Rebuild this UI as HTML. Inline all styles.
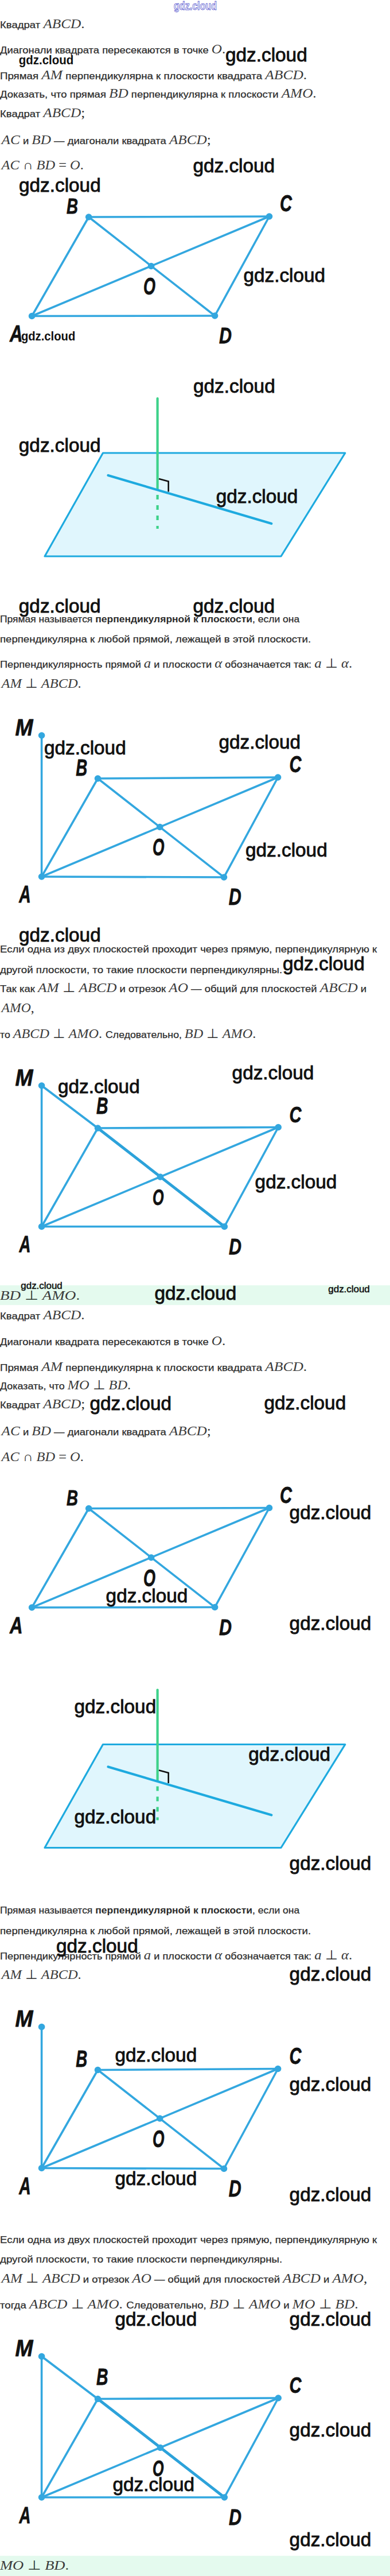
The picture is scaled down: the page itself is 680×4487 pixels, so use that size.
<!DOCTYPE html>
<html><head><meta charset="utf-8"><style>
html,body{margin:0;padding:0;background:#fff;}
body{width:680px;height:4487px;position:relative;overflow:hidden;font-family:"Liberation Sans",sans-serif;}
</style></head><body>
<svg width="680" height="4487" viewBox="0 0 680 4487" style="position:absolute;left:0;top:0">
<rect width="680" height="4487" fill="#fff"/>
<rect x="0" y="2238.7" width="680" height="34.5" fill="#e4faee"/>
<rect x="0" y="4451.8" width="680" height="40" fill="#e4faee"/>
<line x1="55.6" y1="550.5" x2="154.7" y2="378" stroke="#33a7df" stroke-width="3.6" stroke-linecap="round"/>
<line x1="154.7" y1="378" x2="469.5" y2="377" stroke="#33a7df" stroke-width="3.6" stroke-linecap="round"/>
<line x1="469.5" y1="377" x2="374.6" y2="550" stroke="#33a7df" stroke-width="3.6" stroke-linecap="round"/>
<line x1="374.6" y1="550" x2="55.6" y2="550.5" stroke="#33a7df" stroke-width="3.6" stroke-linecap="round"/>
<line x1="55.6" y1="550.5" x2="469.5" y2="377" stroke="#33a7df" stroke-width="3.6" stroke-linecap="round"/>
<line x1="154.7" y1="378" x2="374.6" y2="550" stroke="#33a7df" stroke-width="3.6" stroke-linecap="round"/>
<circle cx="55.6" cy="550.5" r="5.8" fill="#33a7df"/>
<circle cx="154.7" cy="378" r="5.8" fill="#33a7df"/>
<circle cx="469.5" cy="377" r="5.8" fill="#33a7df"/>
<circle cx="374.6" cy="550" r="5.8" fill="#33a7df"/>
<circle cx="263.6" cy="463.5" r="5.8" fill="#33a7df"/>
<text x="116" y="372" font-family="'Liberation Sans', sans-serif" font-weight="bold" font-style="italic" font-size="37.7" fill="#111" stroke="#111" stroke-width="0.8" stroke-linejoin="round" textLength="20" lengthAdjust="spacingAndGlyphs">B</text>
<text x="488" y="368" font-family="'Liberation Sans', sans-serif" font-weight="bold" font-style="italic" font-size="40.5" fill="#111" stroke="#111" stroke-width="0.8" stroke-linejoin="round" textLength="21" lengthAdjust="spacingAndGlyphs">C</text>
<text x="17" y="595" font-family="'Liberation Sans', sans-serif" font-weight="bold" font-style="italic" font-size="40.5" fill="#111" stroke="#111" stroke-width="0.8" stroke-linejoin="round" textLength="22.5" lengthAdjust="spacingAndGlyphs">A</text>
<text x="382" y="598" font-family="'Liberation Sans', sans-serif" font-weight="bold" font-style="italic" font-size="39.1" fill="#111" stroke="#111" stroke-width="0.8" stroke-linejoin="round" textLength="22" lengthAdjust="spacingAndGlyphs">D</text>
<text x="250" y="513" font-family="'Liberation Sans', sans-serif" font-weight="bold" font-style="italic" font-size="41.9" fill="#111" stroke="#111" stroke-width="0.8" stroke-linejoin="round" textLength="21" lengthAdjust="spacingAndGlyphs">O</text>
<polygon points="179.5,789 601.8,789 490,969 78,969" fill="#e0f6fd" stroke="#1eaadf" stroke-width="3.2" stroke-linejoin="round"/>
<line x1="274.6" y1="694" x2="274.6" y2="852" stroke="#3dd28a" stroke-width="4.2" stroke-linecap="round" stroke-linecap="butt"/>
<line x1="274.6" y1="862" x2="274.6" y2="921" stroke="#3dd28a" stroke-width="4.2" stroke-dasharray="8 10"/>
<line x1="188.5" y1="828" x2="473.3" y2="912" stroke="#1eaadf" stroke-width="4.2" stroke-linecap="round"/>
<polyline points="277,834 293.7,838.5 293.7,856.5" fill="none" stroke="#111" stroke-width="2.6"/>
<line x1="72.6" y1="1281" x2="72.6" y2="1527" stroke="#33a7df" stroke-width="3.6" stroke-linecap="round"/>
<line x1="72.6" y1="1527" x2="170.5" y2="1356" stroke="#33a7df" stroke-width="3.6" stroke-linecap="round"/>
<line x1="170.5" y1="1356" x2="484.6" y2="1354" stroke="#33a7df" stroke-width="3.6" stroke-linecap="round"/>
<line x1="484.6" y1="1354" x2="390.5" y2="1528" stroke="#33a7df" stroke-width="3.6" stroke-linecap="round"/>
<line x1="390.5" y1="1528" x2="72.6" y2="1527" stroke="#33a7df" stroke-width="3.6" stroke-linecap="round"/>
<line x1="72.6" y1="1527" x2="484.6" y2="1354" stroke="#33a7df" stroke-width="3.6" stroke-linecap="round"/>
<line x1="170.5" y1="1356" x2="390.5" y2="1528" stroke="#33a7df" stroke-width="3.6" stroke-linecap="round"/>
<circle cx="72.6" cy="1281" r="5.8" fill="#33a7df"/>
<circle cx="72.6" cy="1527" r="5.8" fill="#33a7df"/>
<circle cx="170.5" cy="1356" r="5.8" fill="#33a7df"/>
<circle cx="484.6" cy="1354" r="5.8" fill="#33a7df"/>
<circle cx="390.5" cy="1528" r="5.8" fill="#33a7df"/>
<circle cx="278.7" cy="1440.5" r="5.8" fill="#33a7df"/>
<text x="26.4" y="1280.5" font-family="'Liberation Sans', sans-serif" font-weight="bold" font-style="italic" font-size="40.5" fill="#111" stroke="#111" stroke-width="0.8" stroke-linejoin="round" textLength="31" lengthAdjust="spacingAndGlyphs">M</text>
<text x="132.3" y="1350.5" font-family="'Liberation Sans', sans-serif" font-weight="bold" font-style="italic" font-size="40.5" fill="#111" stroke="#111" stroke-width="0.8" stroke-linejoin="round" textLength="20" lengthAdjust="spacingAndGlyphs">B</text>
<text x="504.4" y="1345.4" font-family="'Liberation Sans', sans-serif" font-weight="bold" font-style="italic" font-size="40.5" fill="#111" stroke="#111" stroke-width="0.8" stroke-linejoin="round" textLength="21" lengthAdjust="spacingAndGlyphs">C</text>
<text x="33.3" y="1572" font-family="'Liberation Sans', sans-serif" font-weight="bold" font-style="italic" font-size="41.9" fill="#111" stroke="#111" stroke-width="0.8" stroke-linejoin="round" textLength="20.5" lengthAdjust="spacingAndGlyphs">A</text>
<text x="398.7" y="1576" font-family="'Liberation Sans', sans-serif" font-weight="bold" font-style="italic" font-size="40.5" fill="#111" stroke="#111" stroke-width="0.8" stroke-linejoin="round" textLength="22" lengthAdjust="spacingAndGlyphs">D</text>
<text x="265.9" y="1490" font-family="'Liberation Sans', sans-serif" font-weight="bold" font-style="italic" font-size="41.9" fill="#111" stroke="#111" stroke-width="0.8" stroke-linejoin="round" textLength="20.5" lengthAdjust="spacingAndGlyphs">O</text>
<line x1="72.6" y1="1891" x2="72.6" y2="2136.5" stroke="#33a7df" stroke-width="3.6" stroke-linecap="round"/>
<line x1="72.6" y1="2136.5" x2="170.5" y2="1965" stroke="#33a7df" stroke-width="3.6" stroke-linecap="round"/>
<line x1="170.5" y1="1965" x2="485.2" y2="1963.5" stroke="#33a7df" stroke-width="3.6" stroke-linecap="round"/>
<line x1="485.2" y1="1963.5" x2="391.3" y2="2136.5" stroke="#33a7df" stroke-width="3.6" stroke-linecap="round"/>
<line x1="391.3" y1="2136.5" x2="72.6" y2="2136.5" stroke="#33a7df" stroke-width="3.6" stroke-linecap="round"/>
<line x1="72.6" y1="2136.5" x2="485.2" y2="1963.5" stroke="#33a7df" stroke-width="3.6" stroke-linecap="round"/>
<line x1="72.6" y1="1891" x2="170.5" y2="1965" stroke="#33a7df" stroke-width="4.0" stroke-linecap="round"/>
<line x1="170.5" y1="1965" x2="391.3" y2="2136.5" stroke="#2ca2da" stroke-width="4.8" stroke-linecap="round"/>
<circle cx="72.6" cy="1891" r="5.8" fill="#33a7df"/>
<circle cx="72.6" cy="2136.5" r="5.8" fill="#33a7df"/>
<circle cx="170.5" cy="1965" r="5.8" fill="#33a7df"/>
<circle cx="485.2" cy="1963.5" r="5.8" fill="#33a7df"/>
<circle cx="391.3" cy="2136.5" r="5.8" fill="#33a7df"/>
<circle cx="279.5" cy="2050" r="5.8" fill="#33a7df"/>
<text x="26.4" y="1890.5" font-family="'Liberation Sans', sans-serif" font-weight="bold" font-style="italic" font-size="40.5" fill="#111" stroke="#111" stroke-width="0.8" stroke-linejoin="round" textLength="31" lengthAdjust="spacingAndGlyphs">M</text>
<text x="168" y="1940" font-family="'Liberation Sans', sans-serif" font-weight="bold" font-style="italic" font-size="40.5" fill="#111" stroke="#111" stroke-width="0.8" stroke-linejoin="round" textLength="20.5" lengthAdjust="spacingAndGlyphs">B</text>
<text x="504.4" y="1954.6" font-family="'Liberation Sans', sans-serif" font-weight="bold" font-style="italic" font-size="39.4" fill="#111" stroke="#111" stroke-width="0.8" stroke-linejoin="round" textLength="21" lengthAdjust="spacingAndGlyphs">C</text>
<text x="33.6" y="2181" font-family="'Liberation Sans', sans-serif" font-weight="bold" font-style="italic" font-size="39.8" fill="#111" stroke="#111" stroke-width="0.8" stroke-linejoin="round" textLength="20" lengthAdjust="spacingAndGlyphs">A</text>
<text x="399" y="2184.6" font-family="'Liberation Sans', sans-serif" font-weight="bold" font-style="italic" font-size="39.4" fill="#111" stroke="#111" stroke-width="0.8" stroke-linejoin="round" textLength="22" lengthAdjust="spacingAndGlyphs">D</text>
<text x="266" y="2099" font-family="'Liberation Sans', sans-serif" font-weight="bold" font-style="italic" font-size="39.1" fill="#111" stroke="#111" stroke-width="0.8" stroke-linejoin="round" textLength="19.5" lengthAdjust="spacingAndGlyphs">O</text>
<line x1="55.6" y1="2800.0" x2="154.7" y2="2627.5" stroke="#33a7df" stroke-width="3.6" stroke-linecap="round"/>
<line x1="154.7" y1="2627.5" x2="469.5" y2="2626.5" stroke="#33a7df" stroke-width="3.6" stroke-linecap="round"/>
<line x1="469.5" y1="2626.5" x2="374.6" y2="2799.5" stroke="#33a7df" stroke-width="3.6" stroke-linecap="round"/>
<line x1="374.6" y1="2799.5" x2="55.6" y2="2800.0" stroke="#33a7df" stroke-width="3.6" stroke-linecap="round"/>
<line x1="55.6" y1="2800.0" x2="469.5" y2="2626.5" stroke="#33a7df" stroke-width="3.6" stroke-linecap="round"/>
<line x1="154.7" y1="2627.5" x2="374.6" y2="2799.5" stroke="#33a7df" stroke-width="3.6" stroke-linecap="round"/>
<circle cx="55.6" cy="2800.0" r="5.8" fill="#33a7df"/>
<circle cx="154.7" cy="2627.5" r="5.8" fill="#33a7df"/>
<circle cx="469.5" cy="2626.5" r="5.8" fill="#33a7df"/>
<circle cx="374.6" cy="2799.5" r="5.8" fill="#33a7df"/>
<circle cx="263.6" cy="2713.0" r="5.8" fill="#33a7df"/>
<text x="116" y="2621.5" font-family="'Liberation Sans', sans-serif" font-weight="bold" font-style="italic" font-size="37.7" fill="#111" stroke="#111" stroke-width="0.8" stroke-linejoin="round" textLength="20" lengthAdjust="spacingAndGlyphs">B</text>
<text x="488" y="2617.5" font-family="'Liberation Sans', sans-serif" font-weight="bold" font-style="italic" font-size="40.5" fill="#111" stroke="#111" stroke-width="0.8" stroke-linejoin="round" textLength="21" lengthAdjust="spacingAndGlyphs">C</text>
<text x="17" y="2844.5" font-family="'Liberation Sans', sans-serif" font-weight="bold" font-style="italic" font-size="40.5" fill="#111" stroke="#111" stroke-width="0.8" stroke-linejoin="round" textLength="22.5" lengthAdjust="spacingAndGlyphs">A</text>
<text x="382" y="2847.5" font-family="'Liberation Sans', sans-serif" font-weight="bold" font-style="italic" font-size="39.1" fill="#111" stroke="#111" stroke-width="0.8" stroke-linejoin="round" textLength="22" lengthAdjust="spacingAndGlyphs">D</text>
<text x="250" y="2762.5" font-family="'Liberation Sans', sans-serif" font-weight="bold" font-style="italic" font-size="41.9" fill="#111" stroke="#111" stroke-width="0.8" stroke-linejoin="round" textLength="21" lengthAdjust="spacingAndGlyphs">O</text>
<polygon points="179.5,3038.5 601.8,3038.5 490,3218.5 78,3218.5" fill="#e0f6fd" stroke="#1eaadf" stroke-width="3.2" stroke-linejoin="round"/>
<line x1="274.6" y1="2943.5" x2="274.6" y2="3101.5" stroke="#3dd28a" stroke-width="4.2" stroke-linecap="round" stroke-linecap="butt"/>
<line x1="274.6" y1="3111.5" x2="274.6" y2="3170.5" stroke="#3dd28a" stroke-width="4.2" stroke-dasharray="8 10"/>
<line x1="188.5" y1="3077.5" x2="473.3" y2="3161.5" stroke="#1eaadf" stroke-width="4.2" stroke-linecap="round"/>
<polyline points="277,3083.5 293.7,3088.0 293.7,3106.0" fill="none" stroke="#111" stroke-width="2.6"/>
<line x1="72.6" y1="3530.5" x2="72.6" y2="3776.5" stroke="#33a7df" stroke-width="3.6" stroke-linecap="round"/>
<line x1="72.6" y1="3776.5" x2="170.5" y2="3605.5" stroke="#33a7df" stroke-width="3.6" stroke-linecap="round"/>
<line x1="170.5" y1="3605.5" x2="484.6" y2="3603.5" stroke="#33a7df" stroke-width="3.6" stroke-linecap="round"/>
<line x1="484.6" y1="3603.5" x2="390.5" y2="3777.5" stroke="#33a7df" stroke-width="3.6" stroke-linecap="round"/>
<line x1="390.5" y1="3777.5" x2="72.6" y2="3776.5" stroke="#33a7df" stroke-width="3.6" stroke-linecap="round"/>
<line x1="72.6" y1="3776.5" x2="484.6" y2="3603.5" stroke="#33a7df" stroke-width="3.6" stroke-linecap="round"/>
<line x1="170.5" y1="3605.5" x2="390.5" y2="3777.5" stroke="#33a7df" stroke-width="3.6" stroke-linecap="round"/>
<circle cx="72.6" cy="3530.5" r="5.8" fill="#33a7df"/>
<circle cx="72.6" cy="3776.5" r="5.8" fill="#33a7df"/>
<circle cx="170.5" cy="3605.5" r="5.8" fill="#33a7df"/>
<circle cx="484.6" cy="3603.5" r="5.8" fill="#33a7df"/>
<circle cx="390.5" cy="3777.5" r="5.8" fill="#33a7df"/>
<circle cx="278.7" cy="3690.0" r="5.8" fill="#33a7df"/>
<text x="26.4" y="3530.0" font-family="'Liberation Sans', sans-serif" font-weight="bold" font-style="italic" font-size="40.5" fill="#111" stroke="#111" stroke-width="0.8" stroke-linejoin="round" textLength="31" lengthAdjust="spacingAndGlyphs">M</text>
<text x="132.3" y="3600.0" font-family="'Liberation Sans', sans-serif" font-weight="bold" font-style="italic" font-size="40.5" fill="#111" stroke="#111" stroke-width="0.8" stroke-linejoin="round" textLength="20" lengthAdjust="spacingAndGlyphs">B</text>
<text x="504.4" y="3594.9" font-family="'Liberation Sans', sans-serif" font-weight="bold" font-style="italic" font-size="40.5" fill="#111" stroke="#111" stroke-width="0.8" stroke-linejoin="round" textLength="21" lengthAdjust="spacingAndGlyphs">C</text>
<text x="33.3" y="3821.5" font-family="'Liberation Sans', sans-serif" font-weight="bold" font-style="italic" font-size="41.9" fill="#111" stroke="#111" stroke-width="0.8" stroke-linejoin="round" textLength="20.5" lengthAdjust="spacingAndGlyphs">A</text>
<text x="398.7" y="3825.5" font-family="'Liberation Sans', sans-serif" font-weight="bold" font-style="italic" font-size="40.5" fill="#111" stroke="#111" stroke-width="0.8" stroke-linejoin="round" textLength="22" lengthAdjust="spacingAndGlyphs">D</text>
<text x="265.9" y="3739.5" font-family="'Liberation Sans', sans-serif" font-weight="bold" font-style="italic" font-size="41.9" fill="#111" stroke="#111" stroke-width="0.8" stroke-linejoin="round" textLength="20.5" lengthAdjust="spacingAndGlyphs">O</text>
<line x1="72.6" y1="4104.5" x2="72.6" y2="4350.0" stroke="#33a7df" stroke-width="3.6" stroke-linecap="round"/>
<line x1="72.6" y1="4350.0" x2="170.5" y2="4178.5" stroke="#33a7df" stroke-width="3.6" stroke-linecap="round"/>
<line x1="170.5" y1="4178.5" x2="485.2" y2="4177.0" stroke="#33a7df" stroke-width="3.6" stroke-linecap="round"/>
<line x1="485.2" y1="4177.0" x2="391.3" y2="4350.0" stroke="#33a7df" stroke-width="3.6" stroke-linecap="round"/>
<line x1="391.3" y1="4350.0" x2="72.6" y2="4350.0" stroke="#33a7df" stroke-width="3.6" stroke-linecap="round"/>
<line x1="72.6" y1="4350.0" x2="485.2" y2="4177.0" stroke="#33a7df" stroke-width="3.6" stroke-linecap="round"/>
<line x1="72.6" y1="4104.5" x2="170.5" y2="4178.5" stroke="#33a7df" stroke-width="4.0" stroke-linecap="round"/>
<line x1="170.5" y1="4178.5" x2="391.3" y2="4350.0" stroke="#2ca2da" stroke-width="4.8" stroke-linecap="round"/>
<circle cx="72.6" cy="4104.5" r="5.8" fill="#33a7df"/>
<circle cx="72.6" cy="4350.0" r="5.8" fill="#33a7df"/>
<circle cx="170.5" cy="4178.5" r="5.8" fill="#33a7df"/>
<circle cx="485.2" cy="4177.0" r="5.8" fill="#33a7df"/>
<circle cx="391.3" cy="4350.0" r="5.8" fill="#33a7df"/>
<circle cx="279.5" cy="4263.5" r="5.8" fill="#33a7df"/>
<text x="26.4" y="4104.0" font-family="'Liberation Sans', sans-serif" font-weight="bold" font-style="italic" font-size="40.5" fill="#111" stroke="#111" stroke-width="0.8" stroke-linejoin="round" textLength="31" lengthAdjust="spacingAndGlyphs">M</text>
<text x="168" y="4153.5" font-family="'Liberation Sans', sans-serif" font-weight="bold" font-style="italic" font-size="40.5" fill="#111" stroke="#111" stroke-width="0.8" stroke-linejoin="round" textLength="20.5" lengthAdjust="spacingAndGlyphs">B</text>
<text x="504.4" y="4168.1" font-family="'Liberation Sans', sans-serif" font-weight="bold" font-style="italic" font-size="39.4" fill="#111" stroke="#111" stroke-width="0.8" stroke-linejoin="round" textLength="21" lengthAdjust="spacingAndGlyphs">C</text>
<text x="33.6" y="4394.5" font-family="'Liberation Sans', sans-serif" font-weight="bold" font-style="italic" font-size="39.8" fill="#111" stroke="#111" stroke-width="0.8" stroke-linejoin="round" textLength="20" lengthAdjust="spacingAndGlyphs">A</text>
<text x="399" y="4398.1" font-family="'Liberation Sans', sans-serif" font-weight="bold" font-style="italic" font-size="39.4" fill="#111" stroke="#111" stroke-width="0.8" stroke-linejoin="round" textLength="22" lengthAdjust="spacingAndGlyphs">D</text>
<text x="266" y="4312.5" font-family="'Liberation Sans', sans-serif" font-weight="bold" font-style="italic" font-size="39.1" fill="#111" stroke="#111" stroke-width="0.8" stroke-linejoin="round" textLength="19.5" lengthAdjust="spacingAndGlyphs">O</text>
<text x="0" y="48.7" fill="#2b2b2b" xml:space="preserve" textLength="147.7" lengthAdjust="spacingAndGlyphs"><tspan font-family="'Liberation Sans', sans-serif" font-size="16.5" stroke="#2b2b2b" stroke-width="0.25">Квадрат </tspan><tspan font-family="'Liberation Serif', serif" font-size="22.5" font-style="italic" fill="#3a3a3a">ABCD</tspan><tspan font-family="'Liberation Serif', serif" font-size="22.5">.</tspan></text>
<text x="0" y="93.1" fill="#2b2b2b" xml:space="preserve" textLength="393.2" lengthAdjust="spacingAndGlyphs"><tspan font-family="'Liberation Sans', sans-serif" font-size="16.5" stroke="#2b2b2b" stroke-width="0.25">Диагонали квадрата пересекаются в точке </tspan><tspan font-family="'Liberation Serif', serif" font-size="22.5" font-style="italic" fill="#3a3a3a">O</tspan><tspan font-family="'Liberation Serif', serif" font-size="22.5">.</tspan></text>
<text x="0" y="138.2" fill="#2b2b2b" xml:space="preserve" textLength="535.2" lengthAdjust="spacingAndGlyphs"><tspan font-family="'Liberation Sans', sans-serif" font-size="16.5" stroke="#2b2b2b" stroke-width="0.25">Прямая </tspan><tspan font-family="'Liberation Serif', serif" font-size="22.5" font-style="italic" fill="#3a3a3a">AM</tspan><tspan font-family="'Liberation Sans', sans-serif" font-size="16.5" stroke="#2b2b2b" stroke-width="0.25"> перпендикулярна к плоскости квадрата </tspan><tspan font-family="'Liberation Serif', serif" font-size="22.5" font-style="italic" fill="#3a3a3a">ABCD</tspan><tspan font-family="'Liberation Serif', serif" font-size="22.5">.</tspan></text>
<text x="0" y="170.3" fill="#2b2b2b" xml:space="preserve" textLength="551.7" lengthAdjust="spacingAndGlyphs"><tspan font-family="'Liberation Sans', sans-serif" font-size="16.5" stroke="#2b2b2b" stroke-width="0.25">Доказать, что прямая </tspan><tspan font-family="'Liberation Serif', serif" font-size="22.5" font-style="italic" fill="#3a3a3a">BD</tspan><tspan font-family="'Liberation Sans', sans-serif" font-size="16.5" stroke="#2b2b2b" stroke-width="0.25"> перпендикулярна к плоскости </tspan><tspan font-family="'Liberation Serif', serif" font-size="22.5" font-style="italic" fill="#3a3a3a">AMO</tspan><tspan font-family="'Liberation Serif', serif" font-size="22.5">.</tspan></text>
<text x="0" y="203.6" fill="#2b2b2b" xml:space="preserve" textLength="148.2" lengthAdjust="spacingAndGlyphs"><tspan font-family="'Liberation Sans', sans-serif" font-size="16.5" stroke="#2b2b2b" stroke-width="0.25">Квадрат </tspan><tspan font-family="'Liberation Serif', serif" font-size="22.5" font-style="italic" fill="#3a3a3a">ABCD</tspan><tspan font-family="'Liberation Serif', serif" font-size="22.5">;</tspan></text>
<text x="2.6" y="250.5" fill="#2b2b2b" xml:space="preserve" textLength="365.1" lengthAdjust="spacingAndGlyphs"><tspan font-family="'Liberation Serif', serif" font-size="22.5" font-style="italic" fill="#3a3a3a">AC</tspan><tspan font-family="'Liberation Sans', sans-serif" font-size="16.5" stroke="#2b2b2b" stroke-width="0.25"> и </tspan><tspan font-family="'Liberation Serif', serif" font-size="22.5" font-style="italic" fill="#3a3a3a">BD</tspan><tspan font-family="'Liberation Sans', sans-serif" font-size="16.5" stroke="#2b2b2b" stroke-width="0.25"> — диагонали квадрата </tspan><tspan font-family="'Liberation Serif', serif" font-size="22.5" font-style="italic" fill="#3a3a3a">ABCD</tspan><tspan font-family="'Liberation Serif', serif" font-size="22.5">;</tspan></text>
<text x="2.6" y="295.4" fill="#2b2b2b" xml:space="preserve" textLength="143.2" lengthAdjust="spacingAndGlyphs"><tspan font-family="'Liberation Serif', serif" font-size="22.5" font-style="italic" fill="#3a3a3a">AC</tspan><tspan font-family="'Liberation Serif', serif" font-size="22.5"> ∩ </tspan><tspan font-family="'Liberation Serif', serif" font-size="22.5" font-style="italic" fill="#3a3a3a">BD</tspan><tspan font-family="'Liberation Serif', serif" font-size="22.5"> = </tspan><tspan font-family="'Liberation Serif', serif" font-size="22.5" font-style="italic" fill="#3a3a3a">O</tspan><tspan font-family="'Liberation Serif', serif" font-size="22.5">.</tspan></text>
<text x="0" y="1083.8" fill="#2b2b2b" xml:space="preserve" textLength="522.2" lengthAdjust="spacingAndGlyphs"><tspan font-family="'Liberation Sans', sans-serif" font-size="16.5" stroke="#2b2b2b" stroke-width="0.25">Прямая называется </tspan><tspan font-family="'Liberation Sans', sans-serif" font-size="16.5" font-weight="bold">перпендикулярной к плоскости</tspan><tspan font-family="'Liberation Sans', sans-serif" font-size="16.5" stroke="#2b2b2b" stroke-width="0.25">, если она</tspan></text>
<text x="0" y="1119" fill="#2b2b2b" xml:space="preserve" textLength="542.2" lengthAdjust="spacingAndGlyphs"><tspan font-family="'Liberation Sans', sans-serif" font-size="16.5" stroke="#2b2b2b" stroke-width="0.25">перпендикулярна к любой прямой, лежащей в этой плоскости.</tspan></text>
<text x="0" y="1163" fill="#2b2b2b" xml:space="preserve" textLength="614.2" lengthAdjust="spacingAndGlyphs"><tspan font-family="'Liberation Sans', sans-serif" font-size="16.5" stroke="#2b2b2b" stroke-width="0.25">Перпендикулярность прямой </tspan><tspan font-family="'Liberation Serif', serif" font-size="22.5" font-style="italic" fill="#3a3a3a">a</tspan><tspan font-family="'Liberation Sans', sans-serif" font-size="16.5" stroke="#2b2b2b" stroke-width="0.25"> и плоскости </tspan><tspan font-family="'Liberation Serif', serif" font-size="22.5" font-style="italic" fill="#3a3a3a">α</tspan><tspan font-family="'Liberation Sans', sans-serif" font-size="16.5" stroke="#2b2b2b" stroke-width="0.25"> обозначается так: </tspan><tspan font-family="'Liberation Serif', serif" font-size="22.5" font-style="italic" fill="#3a3a3a">a</tspan><tspan font-family="'Liberation Serif', serif" font-size="22.5"> ⊥ </tspan><tspan font-family="'Liberation Serif', serif" font-size="22.5" font-style="italic" fill="#3a3a3a">α</tspan><tspan font-family="'Liberation Serif', serif" font-size="22.5">.</tspan></text>
<text x="2.6" y="1197.8" fill="#2b2b2b" xml:space="preserve" textLength="139.1" lengthAdjust="spacingAndGlyphs"><tspan font-family="'Liberation Serif', serif" font-size="22.5" font-style="italic" fill="#3a3a3a">AM</tspan><tspan font-family="'Liberation Serif', serif" font-size="22.5"> ⊥ </tspan><tspan font-family="'Liberation Serif', serif" font-size="22.5" font-style="italic" fill="#3a3a3a">ABCD</tspan><tspan font-family="'Liberation Serif', serif" font-size="22.5">.</tspan></text>
<text x="0" y="1658.5" fill="#2b2b2b" xml:space="preserve" textLength="657.2" lengthAdjust="spacingAndGlyphs"><tspan font-family="'Liberation Sans', sans-serif" font-size="16.5" stroke="#2b2b2b" stroke-width="0.25">Если одна из двух плоскостей проходит через прямую, перпендикулярную к</tspan></text>
<text x="0" y="1695.4" fill="#2b2b2b" xml:space="preserve" textLength="492.2" lengthAdjust="spacingAndGlyphs"><tspan font-family="'Liberation Sans', sans-serif" font-size="16.5" stroke="#2b2b2b" stroke-width="0.25">другой плоскости, то такие плоскости перпендикулярны.</tspan></text>
<text x="0" y="1727.7" fill="#2b2b2b" xml:space="preserve" textLength="639.2" lengthAdjust="spacingAndGlyphs"><tspan font-family="'Liberation Sans', sans-serif" font-size="16.5" stroke="#2b2b2b" stroke-width="0.25">Так как </tspan><tspan font-family="'Liberation Serif', serif" font-size="22.5" font-style="italic" fill="#3a3a3a">AM</tspan><tspan font-family="'Liberation Serif', serif" font-size="22.5"> ⊥ </tspan><tspan font-family="'Liberation Serif', serif" font-size="22.5" font-style="italic" fill="#3a3a3a">ABCD</tspan><tspan font-family="'Liberation Sans', sans-serif" font-size="16.5" stroke="#2b2b2b" stroke-width="0.25"> и отрезок </tspan><tspan font-family="'Liberation Serif', serif" font-size="22.5" font-style="italic" fill="#3a3a3a">AO</tspan><tspan font-family="'Liberation Sans', sans-serif" font-size="16.5" stroke="#2b2b2b" stroke-width="0.25"> — общий для плоскостей </tspan><tspan font-family="'Liberation Serif', serif" font-size="22.5" font-style="italic" fill="#3a3a3a">ABCD</tspan><tspan font-family="'Liberation Sans', sans-serif" font-size="16.5" stroke="#2b2b2b" stroke-width="0.25"> и</tspan></text>
<text x="2.6" y="1763.2" fill="#2b2b2b" xml:space="preserve" textLength="57.0" lengthAdjust="spacingAndGlyphs"><tspan font-family="'Liberation Serif', serif" font-size="22.5" font-style="italic" fill="#3a3a3a">AMO</tspan><tspan font-family="'Liberation Serif', serif" font-size="22.5">,</tspan></text>
<text x="0" y="1807.5" fill="#2b2b2b" xml:space="preserve" textLength="446.2" lengthAdjust="spacingAndGlyphs"><tspan font-family="'Liberation Sans', sans-serif" font-size="16.5" stroke="#2b2b2b" stroke-width="0.25">то </tspan><tspan font-family="'Liberation Serif', serif" font-size="22.5" font-style="italic" fill="#3a3a3a">ABCD</tspan><tspan font-family="'Liberation Serif', serif" font-size="22.5"> ⊥ </tspan><tspan font-family="'Liberation Serif', serif" font-size="22.5" font-style="italic" fill="#3a3a3a">AMO</tspan><tspan font-family="'Liberation Serif', serif" font-size="22.5">. </tspan><tspan font-family="'Liberation Sans', sans-serif" font-size="16.5" stroke="#2b2b2b" stroke-width="0.25">Следовательно, </tspan><tspan font-family="'Liberation Serif', serif" font-size="22.5" font-style="italic" fill="#3a3a3a">BD</tspan><tspan font-family="'Liberation Serif', serif" font-size="22.5"> ⊥ </tspan><tspan font-family="'Liberation Serif', serif" font-size="22.5" font-style="italic" fill="#3a3a3a">AMO</tspan><tspan font-family="'Liberation Serif', serif" font-size="22.5">.</tspan></text>
<text x="0" y="2264" fill="#2e3a33" xml:space="preserve" textLength="139.2" lengthAdjust="spacingAndGlyphs"><tspan font-family="'Liberation Serif', serif" font-size="22.5" font-style="italic" fill="#3a3a3a">BD</tspan><tspan font-family="'Liberation Serif', serif" font-size="22.5"> ⊥ </tspan><tspan font-family="'Liberation Serif', serif" font-size="22.5" font-style="italic" fill="#3a3a3a">AMO</tspan><tspan font-family="'Liberation Serif', serif" font-size="22.5">.</tspan></text>
<text x="0" y="2298.2" fill="#2b2b2b" xml:space="preserve" textLength="147.7" lengthAdjust="spacingAndGlyphs"><tspan font-family="'Liberation Sans', sans-serif" font-size="16.5" stroke="#2b2b2b" stroke-width="0.25">Квадрат </tspan><tspan font-family="'Liberation Serif', serif" font-size="22.5" font-style="italic" fill="#3a3a3a">ABCD</tspan><tspan font-family="'Liberation Serif', serif" font-size="22.5">.</tspan></text>
<text x="0" y="2342.6" fill="#2b2b2b" xml:space="preserve" textLength="393.2" lengthAdjust="spacingAndGlyphs"><tspan font-family="'Liberation Sans', sans-serif" font-size="16.5" stroke="#2b2b2b" stroke-width="0.25">Диагонали квадрата пересекаются в точке </tspan><tspan font-family="'Liberation Serif', serif" font-size="22.5" font-style="italic" fill="#3a3a3a">O</tspan><tspan font-family="'Liberation Serif', serif" font-size="22.5">.</tspan></text>
<text x="0" y="2387.7" fill="#2b2b2b" xml:space="preserve" textLength="535.2" lengthAdjust="spacingAndGlyphs"><tspan font-family="'Liberation Sans', sans-serif" font-size="16.5" stroke="#2b2b2b" stroke-width="0.25">Прямая </tspan><tspan font-family="'Liberation Serif', serif" font-size="22.5" font-style="italic" fill="#3a3a3a">AM</tspan><tspan font-family="'Liberation Sans', sans-serif" font-size="16.5" stroke="#2b2b2b" stroke-width="0.25"> перпендикулярна к плоскости квадрата </tspan><tspan font-family="'Liberation Serif', serif" font-size="22.5" font-style="italic" fill="#3a3a3a">ABCD</tspan><tspan font-family="'Liberation Serif', serif" font-size="22.5">.</tspan></text>
<text x="0" y="2419.8" fill="#2b2b2b" xml:space="preserve" textLength="228.2" lengthAdjust="spacingAndGlyphs"><tspan font-family="'Liberation Sans', sans-serif" font-size="16.5" stroke="#2b2b2b" stroke-width="0.25">Доказать, что </tspan><tspan font-family="'Liberation Serif', serif" font-size="22.5" font-style="italic" fill="#3a3a3a">MO</tspan><tspan font-family="'Liberation Serif', serif" font-size="22.5"> ⊥ </tspan><tspan font-family="'Liberation Serif', serif" font-size="22.5" font-style="italic" fill="#3a3a3a">BD</tspan><tspan font-family="'Liberation Serif', serif" font-size="22.5">.</tspan></text>
<text x="0" y="2453.1" fill="#2b2b2b" xml:space="preserve" textLength="148.2" lengthAdjust="spacingAndGlyphs"><tspan font-family="'Liberation Sans', sans-serif" font-size="16.5" stroke="#2b2b2b" stroke-width="0.25">Квадрат </tspan><tspan font-family="'Liberation Serif', serif" font-size="22.5" font-style="italic" fill="#3a3a3a">ABCD</tspan><tspan font-family="'Liberation Serif', serif" font-size="22.5">;</tspan></text>
<text x="2.6" y="2500.0" fill="#2b2b2b" xml:space="preserve" textLength="365.1" lengthAdjust="spacingAndGlyphs"><tspan font-family="'Liberation Serif', serif" font-size="22.5" font-style="italic" fill="#3a3a3a">AC</tspan><tspan font-family="'Liberation Sans', sans-serif" font-size="16.5" stroke="#2b2b2b" stroke-width="0.25"> и </tspan><tspan font-family="'Liberation Serif', serif" font-size="22.5" font-style="italic" fill="#3a3a3a">BD</tspan><tspan font-family="'Liberation Sans', sans-serif" font-size="16.5" stroke="#2b2b2b" stroke-width="0.25"> — диагонали квадрата </tspan><tspan font-family="'Liberation Serif', serif" font-size="22.5" font-style="italic" fill="#3a3a3a">ABCD</tspan><tspan font-family="'Liberation Serif', serif" font-size="22.5">;</tspan></text>
<text x="2.6" y="2544.9" fill="#2b2b2b" xml:space="preserve" textLength="143.2" lengthAdjust="spacingAndGlyphs"><tspan font-family="'Liberation Serif', serif" font-size="22.5" font-style="italic" fill="#3a3a3a">AC</tspan><tspan font-family="'Liberation Serif', serif" font-size="22.5"> ∩ </tspan><tspan font-family="'Liberation Serif', serif" font-size="22.5" font-style="italic" fill="#3a3a3a">BD</tspan><tspan font-family="'Liberation Serif', serif" font-size="22.5"> = </tspan><tspan font-family="'Liberation Serif', serif" font-size="22.5" font-style="italic" fill="#3a3a3a">O</tspan><tspan font-family="'Liberation Serif', serif" font-size="22.5">.</tspan></text>
<text x="0" y="3333.3" fill="#2b2b2b" xml:space="preserve" textLength="522.2" lengthAdjust="spacingAndGlyphs"><tspan font-family="'Liberation Sans', sans-serif" font-size="16.5" stroke="#2b2b2b" stroke-width="0.25">Прямая называется </tspan><tspan font-family="'Liberation Sans', sans-serif" font-size="16.5" font-weight="bold">перпендикулярной к плоскости</tspan><tspan font-family="'Liberation Sans', sans-serif" font-size="16.5" stroke="#2b2b2b" stroke-width="0.25">, если она</tspan></text>
<text x="0" y="3368.5" fill="#2b2b2b" xml:space="preserve" textLength="542.2" lengthAdjust="spacingAndGlyphs"><tspan font-family="'Liberation Sans', sans-serif" font-size="16.5" stroke="#2b2b2b" stroke-width="0.25">перпендикулярна к любой прямой, лежащей в этой плоскости.</tspan></text>
<text x="0" y="3412.5" fill="#2b2b2b" xml:space="preserve" textLength="614.2" lengthAdjust="spacingAndGlyphs"><tspan font-family="'Liberation Sans', sans-serif" font-size="16.5" stroke="#2b2b2b" stroke-width="0.25">Перпендикулярность прямой </tspan><tspan font-family="'Liberation Serif', serif" font-size="22.5" font-style="italic" fill="#3a3a3a">a</tspan><tspan font-family="'Liberation Sans', sans-serif" font-size="16.5" stroke="#2b2b2b" stroke-width="0.25"> и плоскости </tspan><tspan font-family="'Liberation Serif', serif" font-size="22.5" font-style="italic" fill="#3a3a3a">α</tspan><tspan font-family="'Liberation Sans', sans-serif" font-size="16.5" stroke="#2b2b2b" stroke-width="0.25"> обозначается так: </tspan><tspan font-family="'Liberation Serif', serif" font-size="22.5" font-style="italic" fill="#3a3a3a">a</tspan><tspan font-family="'Liberation Serif', serif" font-size="22.5"> ⊥ </tspan><tspan font-family="'Liberation Serif', serif" font-size="22.5" font-style="italic" fill="#3a3a3a">α</tspan><tspan font-family="'Liberation Serif', serif" font-size="22.5">.</tspan></text>
<text x="2.6" y="3447.3" fill="#2b2b2b" xml:space="preserve" textLength="139.1" lengthAdjust="spacingAndGlyphs"><tspan font-family="'Liberation Serif', serif" font-size="22.5" font-style="italic" fill="#3a3a3a">AM</tspan><tspan font-family="'Liberation Serif', serif" font-size="22.5"> ⊥ </tspan><tspan font-family="'Liberation Serif', serif" font-size="22.5" font-style="italic" fill="#3a3a3a">ABCD</tspan><tspan font-family="'Liberation Serif', serif" font-size="22.5">.</tspan></text>
<text x="0" y="3907" fill="#2b2b2b" xml:space="preserve" textLength="657.2" lengthAdjust="spacingAndGlyphs"><tspan font-family="'Liberation Sans', sans-serif" font-size="16.5" stroke="#2b2b2b" stroke-width="0.25">Если одна из двух плоскостей проходит через прямую, перпендикулярную к</tspan></text>
<text x="0" y="3941.4" fill="#2b2b2b" xml:space="preserve" textLength="492.2" lengthAdjust="spacingAndGlyphs"><tspan font-family="'Liberation Sans', sans-serif" font-size="16.5" stroke="#2b2b2b" stroke-width="0.25">другой плоскости, то такие плоскости перпендикулярны.</tspan></text>
<text x="2.6" y="3976.2" fill="#2b2b2b" xml:space="preserve" textLength="637.6" lengthAdjust="spacingAndGlyphs"><tspan font-family="'Liberation Serif', serif" font-size="22.5" font-style="italic" fill="#3a3a3a">AM</tspan><tspan font-family="'Liberation Serif', serif" font-size="22.5"> ⊥ </tspan><tspan font-family="'Liberation Serif', serif" font-size="22.5" font-style="italic" fill="#3a3a3a">ABCD</tspan><tspan font-family="'Liberation Sans', sans-serif" font-size="16.5" stroke="#2b2b2b" stroke-width="0.25"> и отрезок </tspan><tspan font-family="'Liberation Serif', serif" font-size="22.5" font-style="italic" fill="#3a3a3a">AO</tspan><tspan font-family="'Liberation Sans', sans-serif" font-size="16.5" stroke="#2b2b2b" stroke-width="0.25"> — общий для плоскостей </tspan><tspan font-family="'Liberation Serif', serif" font-size="22.5" font-style="italic" fill="#3a3a3a">ABCD</tspan><tspan font-family="'Liberation Sans', sans-serif" font-size="16.5" stroke="#2b2b2b" stroke-width="0.25"> и </tspan><tspan font-family="'Liberation Serif', serif" font-size="22.5" font-style="italic" fill="#3a3a3a">AMO</tspan><tspan font-family="'Liberation Serif', serif" font-size="22.5">,</tspan></text>
<text x="0" y="4021.4" fill="#2b2b2b" xml:space="preserve" textLength="624.7" lengthAdjust="spacingAndGlyphs"><tspan font-family="'Liberation Sans', sans-serif" font-size="16.5" stroke="#2b2b2b" stroke-width="0.25">тогда </tspan><tspan font-family="'Liberation Serif', serif" font-size="22.5" font-style="italic" fill="#3a3a3a">ABCD</tspan><tspan font-family="'Liberation Serif', serif" font-size="22.5"> ⊥ </tspan><tspan font-family="'Liberation Serif', serif" font-size="22.5" font-style="italic" fill="#3a3a3a">AMO</tspan><tspan font-family="'Liberation Serif', serif" font-size="22.5">. </tspan><tspan font-family="'Liberation Sans', sans-serif" font-size="16.5" stroke="#2b2b2b" stroke-width="0.25">Следовательно, </tspan><tspan font-family="'Liberation Serif', serif" font-size="22.5" font-style="italic" fill="#3a3a3a">BD</tspan><tspan font-family="'Liberation Serif', serif" font-size="22.5"> ⊥ </tspan><tspan font-family="'Liberation Serif', serif" font-size="22.5" font-style="italic" fill="#3a3a3a">AMO</tspan><tspan font-family="'Liberation Sans', sans-serif" font-size="16.5" stroke="#2b2b2b" stroke-width="0.25"> и </tspan><tspan font-family="'Liberation Serif', serif" font-size="22.5" font-style="italic" fill="#3a3a3a">MO</tspan><tspan font-family="'Liberation Serif', serif" font-size="22.5"> ⊥ </tspan><tspan font-family="'Liberation Serif', serif" font-size="22.5" font-style="italic" fill="#3a3a3a">BD</tspan><tspan font-family="'Liberation Serif', serif" font-size="22.5">.</tspan></text>
<text x="0" y="4476.4" fill="#2e3a33" xml:space="preserve" textLength="120.2" lengthAdjust="spacingAndGlyphs"><tspan font-family="'Liberation Serif', serif" font-size="22.5" font-style="italic" fill="#3a3a3a">MO</tspan><tspan font-family="'Liberation Serif', serif" font-size="22.5"> ⊥ </tspan><tspan font-family="'Liberation Serif', serif" font-size="22.5" font-style="italic" fill="#3a3a3a">BD</tspan><tspan font-family="'Liberation Serif', serif" font-size="22.5">.</tspan></text>
<text x="33" y="334.2" font-family="'Liberation Sans', sans-serif" font-size="34" fill="#111" stroke="#111" stroke-width="0.9" textLength="142.7" lengthAdjust="spacingAndGlyphs">gdz.cloud</text>
<text x="336.4" y="299.5" font-family="'Liberation Sans', sans-serif" font-size="34" fill="#111" stroke="#111" stroke-width="0.9" textLength="142.7" lengthAdjust="spacingAndGlyphs">gdz.cloud</text>
<text x="424.4" y="491.3" font-family="'Liberation Sans', sans-serif" font-size="34" fill="#111" stroke="#111" stroke-width="0.9" textLength="142.7" lengthAdjust="spacingAndGlyphs">gdz.cloud</text>
<text x="36.9" y="592.7" font-family="'Liberation Sans', sans-serif" font-weight="bold" font-size="22" fill="#111" textLength="94.4" lengthAdjust="spacingAndGlyphs">gdz.cloud</text>
<text x="32.7" y="111.7" font-family="'Liberation Sans', sans-serif" font-weight="bold" font-size="22" fill="#111" textLength="95.6" lengthAdjust="spacingAndGlyphs">gdz.cloud</text>
<text x="393" y="107.2" font-family="'Liberation Sans', sans-serif" font-size="34" fill="#111" stroke="#111" stroke-width="0.9" textLength="142.7" lengthAdjust="spacingAndGlyphs">gdz.cloud</text>
<text x="337" y="684" font-family="'Liberation Sans', sans-serif" font-size="34" fill="#111" stroke="#111" stroke-width="0.9" textLength="142.7" lengthAdjust="spacingAndGlyphs">gdz.cloud</text>
<text x="32.8" y="787" font-family="'Liberation Sans', sans-serif" font-size="34" fill="#111" stroke="#111" stroke-width="0.9" textLength="142.7" lengthAdjust="spacingAndGlyphs">gdz.cloud</text>
<text x="376.7" y="876.4" font-family="'Liberation Sans', sans-serif" font-size="34" fill="#111" stroke="#111" stroke-width="0.9" textLength="142.7" lengthAdjust="spacingAndGlyphs">gdz.cloud</text>
<text x="32.8" y="1067.2" font-family="'Liberation Sans', sans-serif" font-size="34" fill="#111" stroke="#111" stroke-width="0.9" textLength="142.7" lengthAdjust="spacingAndGlyphs">gdz.cloud</text>
<text x="336.4" y="1067.2" font-family="'Liberation Sans', sans-serif" font-size="34" fill="#111" stroke="#111" stroke-width="0.9" textLength="142.7" lengthAdjust="spacingAndGlyphs">gdz.cloud</text>
<text x="77" y="1314" font-family="'Liberation Sans', sans-serif" font-size="34" fill="#111" stroke="#111" stroke-width="0.9" textLength="142.7" lengthAdjust="spacingAndGlyphs">gdz.cloud</text>
<text x="381.4" y="1304" font-family="'Liberation Sans', sans-serif" font-size="34" fill="#111" stroke="#111" stroke-width="0.9" textLength="142.7" lengthAdjust="spacingAndGlyphs">gdz.cloud</text>
<text x="428" y="1492" font-family="'Liberation Sans', sans-serif" font-size="34" fill="#111" stroke="#111" stroke-width="0.9" textLength="142.7" lengthAdjust="spacingAndGlyphs">gdz.cloud</text>
<text x="33" y="1640" font-family="'Liberation Sans', sans-serif" font-size="34" fill="#111" stroke="#111" stroke-width="0.9" textLength="142.7" lengthAdjust="spacingAndGlyphs">gdz.cloud</text>
<text x="493" y="1689.5" font-family="'Liberation Sans', sans-serif" font-size="34" fill="#111" stroke="#111" stroke-width="0.9" textLength="142.7" lengthAdjust="spacingAndGlyphs">gdz.cloud</text>
<text x="101" y="1904" font-family="'Liberation Sans', sans-serif" font-size="34" fill="#111" stroke="#111" stroke-width="0.9" textLength="142.7" lengthAdjust="spacingAndGlyphs">gdz.cloud</text>
<text x="404.6" y="1880.3" font-family="'Liberation Sans', sans-serif" font-size="34" fill="#111" stroke="#111" stroke-width="0.9" textLength="142.7" lengthAdjust="spacingAndGlyphs">gdz.cloud</text>
<text x="444.6" y="2070" font-family="'Liberation Sans', sans-serif" font-size="34" fill="#111" stroke="#111" stroke-width="0.9" textLength="142.7" lengthAdjust="spacingAndGlyphs">gdz.cloud</text>
<text x="36.3" y="2245.2" font-family="'Liberation Sans', sans-serif" font-size="16.5" fill="#111" stroke="#111" stroke-width="0.5" textLength="72.5" lengthAdjust="spacingAndGlyphs">gdz.cloud</text>
<text x="269.5" y="2263.6" font-family="'Liberation Sans', sans-serif" font-size="34" fill="#111" stroke="#111" stroke-width="0.9" textLength="142.7" lengthAdjust="spacingAndGlyphs">gdz.cloud</text>
<text x="572.3" y="2250.5" font-family="'Liberation Sans', sans-serif" font-size="16.5" fill="#111" stroke="#111" stroke-width="0.5" textLength="72.5" lengthAdjust="spacingAndGlyphs">gdz.cloud</text>
<text x="156.4" y="2456" font-family="'Liberation Sans', sans-serif" font-size="34" fill="#111" stroke="#111" stroke-width="0.9" textLength="142.7" lengthAdjust="spacingAndGlyphs">gdz.cloud</text>
<text x="460.5" y="2455" font-family="'Liberation Sans', sans-serif" font-size="34" fill="#111" stroke="#111" stroke-width="0.9" textLength="142.7" lengthAdjust="spacingAndGlyphs">gdz.cloud</text>
<text x="504.6" y="2646" font-family="'Liberation Sans', sans-serif" font-size="34" fill="#111" stroke="#111" stroke-width="0.9" textLength="142.7" lengthAdjust="spacingAndGlyphs">gdz.cloud</text>
<text x="184.6" y="2791.3" font-family="'Liberation Sans', sans-serif" font-size="34" fill="#111" stroke="#111" stroke-width="0.9" textLength="142.7" lengthAdjust="spacingAndGlyphs">gdz.cloud</text>
<text x="504.6" y="2838.7" font-family="'Liberation Sans', sans-serif" font-size="34" fill="#111" stroke="#111" stroke-width="0.9" textLength="142.7" lengthAdjust="spacingAndGlyphs">gdz.cloud</text>
<text x="129.5" y="2983.8" font-family="'Liberation Sans', sans-serif" font-size="34" fill="#111" stroke="#111" stroke-width="0.9" textLength="142.7" lengthAdjust="spacingAndGlyphs">gdz.cloud</text>
<text x="433.3" y="3067.2" font-family="'Liberation Sans', sans-serif" font-size="34" fill="#111" stroke="#111" stroke-width="0.9" textLength="142.7" lengthAdjust="spacingAndGlyphs">gdz.cloud</text>
<text x="129.5" y="3176" font-family="'Liberation Sans', sans-serif" font-size="34" fill="#111" stroke="#111" stroke-width="0.9" textLength="142.7" lengthAdjust="spacingAndGlyphs">gdz.cloud</text>
<text x="504.6" y="3257.4" font-family="'Liberation Sans', sans-serif" font-size="34" fill="#111" stroke="#111" stroke-width="0.9" textLength="142.7" lengthAdjust="spacingAndGlyphs">gdz.cloud</text>
<text x="98" y="3401" font-family="'Liberation Sans', sans-serif" font-size="34" fill="#111" stroke="#111" stroke-width="0.9" textLength="142.7" lengthAdjust="spacingAndGlyphs">gdz.cloud</text>
<text x="504.6" y="3450" font-family="'Liberation Sans', sans-serif" font-size="34" fill="#111" stroke="#111" stroke-width="0.9" textLength="142.7" lengthAdjust="spacingAndGlyphs">gdz.cloud</text>
<text x="200.5" y="3591" font-family="'Liberation Sans', sans-serif" font-size="34" fill="#111" stroke="#111" stroke-width="0.9" textLength="142.7" lengthAdjust="spacingAndGlyphs">gdz.cloud</text>
<text x="504.6" y="3642" font-family="'Liberation Sans', sans-serif" font-size="34" fill="#111" stroke="#111" stroke-width="0.9" textLength="142.7" lengthAdjust="spacingAndGlyphs">gdz.cloud</text>
<text x="200.5" y="3806" font-family="'Liberation Sans', sans-serif" font-size="34" fill="#111" stroke="#111" stroke-width="0.9" textLength="142.7" lengthAdjust="spacingAndGlyphs">gdz.cloud</text>
<text x="504.6" y="3833.6" font-family="'Liberation Sans', sans-serif" font-size="34" fill="#111" stroke="#111" stroke-width="0.9" textLength="142.7" lengthAdjust="spacingAndGlyphs">gdz.cloud</text>
<text x="200.5" y="4051" font-family="'Liberation Sans', sans-serif" font-size="34" fill="#111" stroke="#111" stroke-width="0.9" textLength="142.7" lengthAdjust="spacingAndGlyphs">gdz.cloud</text>
<text x="504.6" y="4051" font-family="'Liberation Sans', sans-serif" font-size="34" fill="#111" stroke="#111" stroke-width="0.9" textLength="142.7" lengthAdjust="spacingAndGlyphs">gdz.cloud</text>
<text x="504.6" y="4243.8" font-family="'Liberation Sans', sans-serif" font-size="34" fill="#111" stroke="#111" stroke-width="0.9" textLength="142.7" lengthAdjust="spacingAndGlyphs">gdz.cloud</text>
<text x="196.4" y="4338.7" font-family="'Liberation Sans', sans-serif" font-size="34" fill="#111" stroke="#111" stroke-width="0.9" textLength="142.7" lengthAdjust="spacingAndGlyphs">gdz.cloud</text>
<text x="504.6" y="4435.4" font-family="'Liberation Sans', sans-serif" font-size="34" fill="#111" stroke="#111" stroke-width="0.9" textLength="142.7" lengthAdjust="spacingAndGlyphs">gdz.cloud</text>
<text x="303" y="17.3" font-family="'Liberation Sans', sans-serif" font-weight="bold" font-size="19.5" fill="#fff" stroke="#3a3ac8" stroke-width="0.75" textLength="75" lengthAdjust="spacingAndGlyphs">gdz.cloud</text>
</svg>
</body></html>
